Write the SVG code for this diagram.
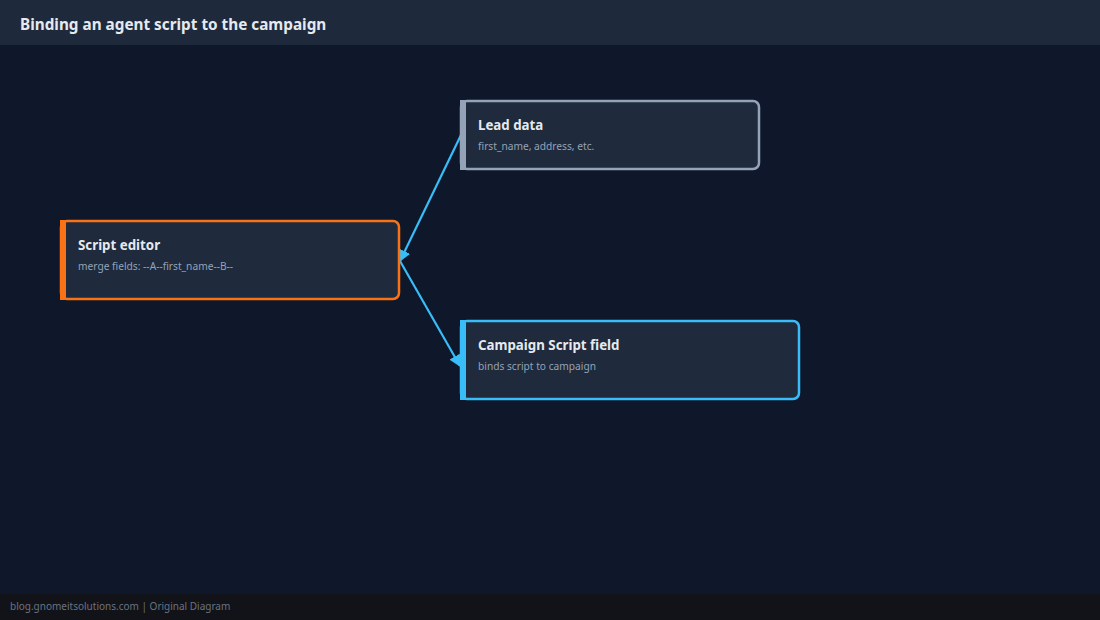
<svg xmlns="http://www.w3.org/2000/svg" width="1100" height="620" viewBox="0 0 1100 620">
<style>
.t{font-family:"Noto Sans","Open Sans",sans-serif;font-weight:bold;font-size:13.3px;fill:#e5e9f0}
.s{font-family:"Noto Sans","Open Sans",sans-serif;font-size:10.2px;fill:#94a3b8}
.box{fill:#1f2a3c;stroke-width:2.5}
.c{stroke:#38bdf8;stroke-width:2.2;fill:none}
</style>
<defs><marker id="a" viewBox="0 0 10 10" refX="9" refY="5" markerWidth="12" markerHeight="12" markerUnits="userSpaceOnUse" orient="auto"><path d="M0,0L10,5L0,10z" fill="#38bdf8"/></marker></defs>
<rect width="1100" height="620" fill="#0f172a"/>
<rect width="1100" height="45" fill="#1e293b"/>
<text x="20" y="30" font-family="Noto Sans,Open Sans,sans-serif" font-weight="bold" font-size="15.3" fill="#e5e9f0">Binding an agent script to the campaign</text>
<rect y="594" width="1100" height="26" fill="#111318"/>
<text x="10" y="610" font-family="Noto Sans,Open Sans,sans-serif" font-size="10" fill="#6b7280">blog.gnomeitsolutions.com | Original Diagram</text>
<g id="connectors">
<path class="c" d="M461,135L400,261" marker-end="url(#a)"/>
<path class="c" d="M400,261L460,366" marker-end="url(#a)"/>
</g>
<g id="lead">
<rect class="box" x="461" y="101" width="298" height="68" rx="6" stroke="#94a3b8"/>
<rect x="460" y="100" width="6" height="70" fill="#94a3b8"/>
<text class="t" x="478" y="130">Lead data</text>
<text class="s" x="478" y="150">first_name, address, etc.</text>
</g>
<g id="editor">
<rect class="box" x="61" y="221" width="338" height="78" rx="6" stroke="#f97316"/>
<rect x="60" y="220" width="6" height="80" fill="#f97316"/>
<text class="t" x="78" y="250">Script editor</text>
<text class="s" x="78" y="270">merge fields: --A--first_name--B--</text>
</g>
<g id="campaign">
<rect class="box" x="461" y="321" width="338" height="78" rx="6" stroke="#38bdf8"/>
<rect x="460" y="320" width="6" height="80" fill="#38bdf8"/>
<text class="t" x="478" y="350">Campaign Script field</text>
<text class="s" x="478" y="370">binds script to campaign</text>
</g>
</svg>
